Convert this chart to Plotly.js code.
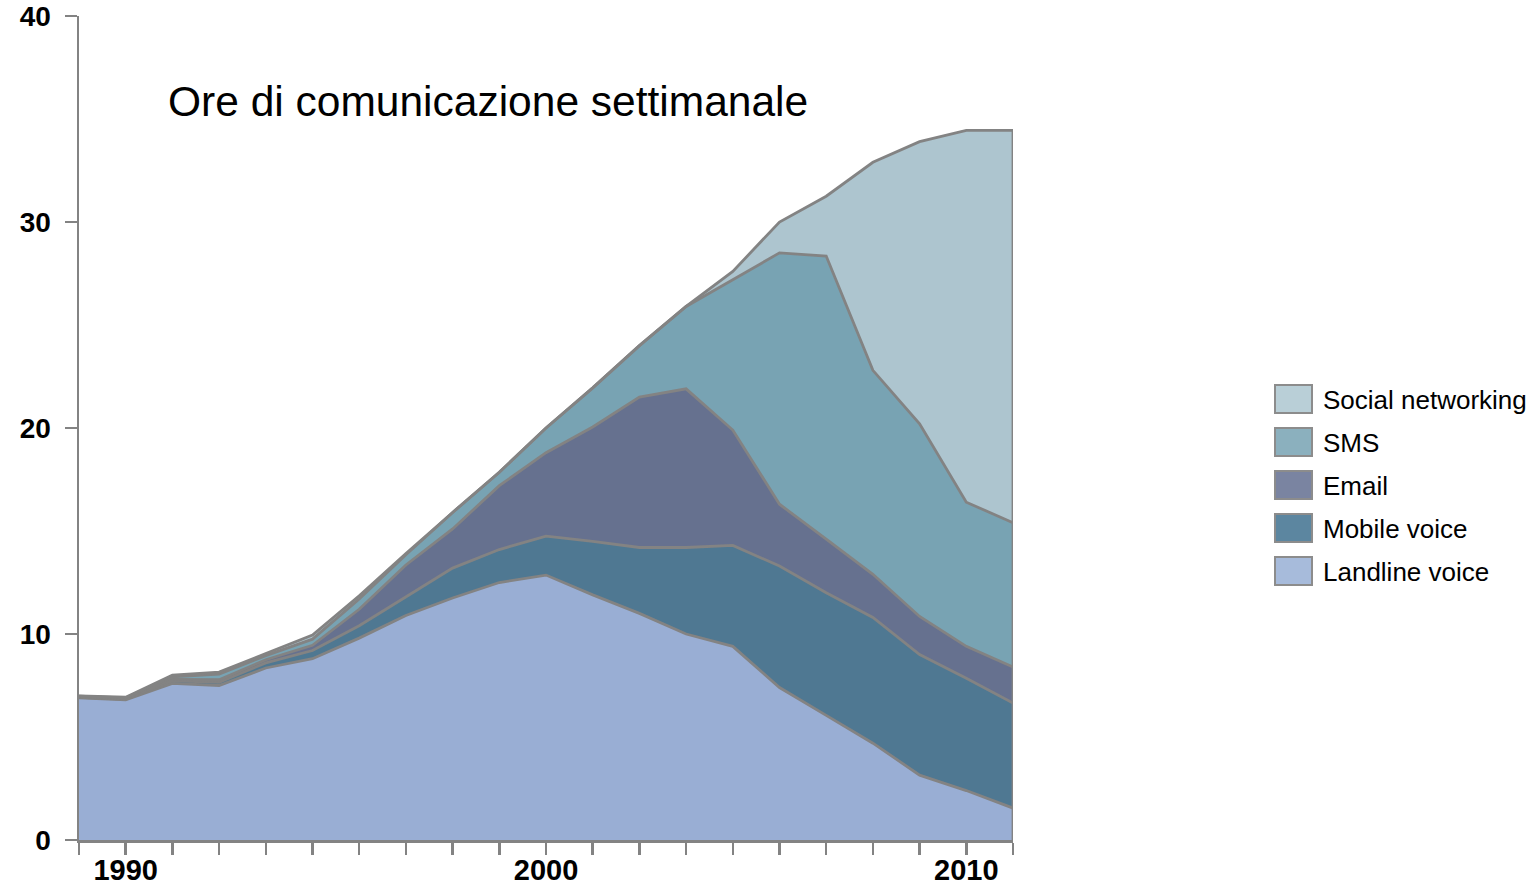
<!DOCTYPE html>
<html>
<head>
<meta charset="utf-8">
<script src="https://cdn.plot.ly/plotly-3.0.1.min.js"></script>
<style>
html,body{margin:0;padding:0;background:#fff;}
#chart{width:1539px;height:889px;}
</style>
</head>
<body>
<div id="chart"></div>
<script>
// ---- data (weekly hours, stacked layers) ----
var pointIndex = [0,1,2,3,4,5,6,7,8,9,10,11,12,13,14,15,16,17,18,19,20];
var tickLabels = ["","1990","","","","","","","","","2000","","","","","","","","","2010",""];
var seriesNames = ["Landline voice","Mobile voice","Email","SMS","Social networking"];

var landline = [6.9,6.8,7.6,7.5,8.35,8.8,9.8,10.9,11.75,12.5,12.86,11.9,11.0,10.0,9.4,7.4,6.05,4.7,3.15,2.4,1.55];
var mobile   = [0.02,0.03,0.12,0.15,0.25,0.4,0.6,0.9,1.45,1.6,1.89,2.6,3.2,4.2,4.9,5.9,5.95,6.1,5.85,5.45,5.1];
var email    = [0.03,0.03,0.08,0.13,0.15,0.25,0.8,1.55,1.9,3.1,4.05,5.55,7.3,7.7,5.6,3.0,2.6,2.1,1.85,1.55,1.75];
var sms      = [0.03,0.04,0.12,0.27,0.2,0.3,0.5,0.5,0.8,0.65,1.2,1.9,2.5,4.0,7.3,12.2,13.75,9.9,9.35,7.0,7.0];
var social   = [0.02,0.03,0.08,0.1,0.1,0.2,0.15,0.05,0,0,0,0,0,0,0.4,1.5,2.9,10.1,13.7,18.05,19.05];

var yTicks = [0,10,20,30,40];

// ---- styles ----
var fillColors   = ["#99aed4","#4f7892","#66718f","#78a3b3","#adc5cf"];
var legendColors = ["#a7bbdb","#5c86a0","#7a84a1","#8bb0be","#b9cfd7"];
var edge = "#838383";
var FONT = "Liberation Sans, Arial, Helvetica, sans-serif";

var layers = [landline, mobile, email, sms, social];
var traces = layers.map(function(vals, k){
  return {
    type: "scatter", mode: "lines",
    x: pointIndex, y: vals,
    name: seriesNames[k],
    stackgroup: "one",
    fillcolor: fillColors[k],
    line: {color: edge, width: 2.8},
    hoverinfo: "name+y"
  };
});

// plot area geometry (px)
var PL = 79, PT = 16, PW = 934, PH = 824, FW = 1539, FH = 889;
function px2x(p){ return (p - PL) / PW; }
function px2y(p){ return (PT + PH - p) / PH; }

// closing right edge of the stacked outline, from data
var lastIdx = pointIndex.length - 1;
var lastTotal = layers.reduce(function(s, a){ return s + a[lastIdx]; }, 0);

var shapes = [{
  type: "line", xref: "x", yref: "y",
  x0: pointIndex[lastIdx], x1: pointIndex[lastIdx], y0: 0, y1: lastTotal,
  line: {color: edge, width: 2.8}, layer: "above"
}];
var annotations = [{
  text: "Ore di comunicazione settimanale",
  xref: "paper", yref: "paper", x: px2x(166), y: px2y(102),
  xanchor: "left", yanchor: "middle", showarrow: false,
  font: {family: FONT, size: 42.5, color: "#000"}
}];

// custom legend (top to bottom: reverse stack order)
for (var j = 0; j < seriesNames.length; j++){
  var k = seriesNames.length - 1 - j;
  var itemTop = 385 + j * 43;
  shapes.push({
    type: "rect", xref: "paper", yref: "paper",
    x0: px2x(1275), x1: px2x(1312), y0: px2y(itemTop), y1: px2y(itemTop + 28),
    fillcolor: legendColors[k], line: {color: "#8c8c8c", width: 2}
  });
  annotations.push({
    text: seriesNames[k], xref: "paper", yref: "paper",
    x: px2x(1321), y: px2y(itemTop + 15), xanchor: "left", yanchor: "middle",
    showarrow: false, font: {family: FONT, size: 26, color: "#000"}
  });
}

var layout = {
  width: FW, height: FH,
  margin: {l: PL, r: FW - PL - PW, t: PT, b: FH - PT - PH, pad: 0},
  paper_bgcolor: "#fff", plot_bgcolor: "#fff",
  showlegend: false,
  xaxis: {
    range: [0, lastIdx], tickmode: "array", tickvals: pointIndex, ticktext: tickLabels,
    showgrid: false, zeroline: false,
    showline: true, linecolor: edge, linewidth: 2.5,
    ticks: "outside", ticklen: 12, tickwidth: 2.5, tickcolor: edge,
    ticklabelstandoff: -9,
    tickfont: {family: FONT, size: 29, color: "#000", weight: "bold"},
    fixedrange: true
  },
  yaxis: {
    range: [0, 40], tickmode: "array", tickvals: yTicks,
    showgrid: false, zeroline: false,
    showline: true, linecolor: edge, linewidth: 2.5,
    ticks: "outside", ticklen: 12, tickwidth: 2.5, tickcolor: edge,
    ticklabelstandoff: 8,
    tickfont: {family: FONT, size: 28, color: "#000", weight: "bold"},
    fixedrange: true
  },
  shapes: shapes,
  annotations: annotations
};

Plotly.newPlot("chart", traces, layout, {displayModeBar: false, staticPlot: true});
</script>
</body>
</html>
